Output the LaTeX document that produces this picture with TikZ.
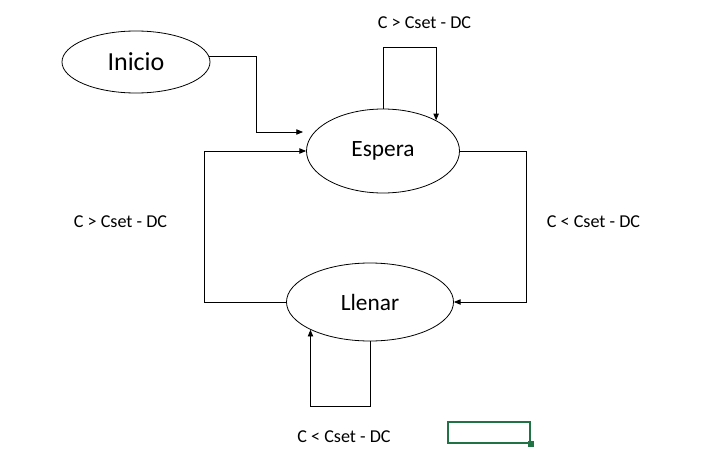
\documentclass[tikz,border=0pt]{standalone}
\usepackage{fontspec}
\setmainfont{Carlito}
\usetikzlibrary{shapes.geometric, arrows.meta, positioning}
\definecolor{excelgreen}{RGB}{33,115,70}

\begin{document}
\begin{tikzpicture}[
    x=0.75pt, y=-0.75pt,
    state/.style={ellipse, draw, line width=0.6pt, inner sep=0pt, font=\fontsize{17.5}{19}\selectfont},
    cond/.style={font=\fontsize{13.6}{15}\selectfont},
    arrow/.style={-{Triangle[length=5pt, width=4pt]}, line width=0.6pt},
    cellsel/.style={rectangle, draw=excelgreen, line width=1.5pt, minimum width=61.5pt, minimum height=15.75pt}
]
\useasboundingbox (0,0) rectangle (728,453);

% States
\node[state, minimum width=111pt, minimum height=46.5pt, font=\fontsize{19.5}{21}\selectfont] (inicio) at (136,62) {Inicio};
\node[state, minimum width=114.75pt, minimum height=63pt] (espera) at (383,151) {Espera};
\node[state, minimum width=125.25pt, minimum height=58.5pt] (llenar) at (370,302) {Llenar};

% Start arrow
\coordinate (iniend) at (303,132);
\draw[arrow] (inicio.4) -- ++(47,0) |- (iniend);

% Self loop on Espera
\draw[arrow] (espera.north) -- ++(0,-61) -| (espera.30);
\node[cond] (c1) at (424.5,23) {C > Cset - DC};

% Espera -> Llenar
\draw[arrow] (espera.east) -- ++(66,0) |- (llenar.east);
\node[cond] (c2) at (593.5,222) {C < Cset - DC};

% Llenar -> Espera
\draw[arrow] (llenar.west) -- ++(-82,0) |- (espera.west);
\node[cond] (c3) at (120.5,222) {C > Cset - DC};

% Self loop on Llenar
\draw[arrow] (llenar.south) -- ++(0,65) -| (llenar.205);
\node[cond] (c4) at (344,437) {C < Cset - DC};

% Selected cell
\node[cellsel] (celda) at (489,432.5) {};
\node[fill=excelgreen, inner sep=0pt, minimum size=4pt] (handle) at (celda.south east) {};

\end{tikzpicture}
\end{document}
